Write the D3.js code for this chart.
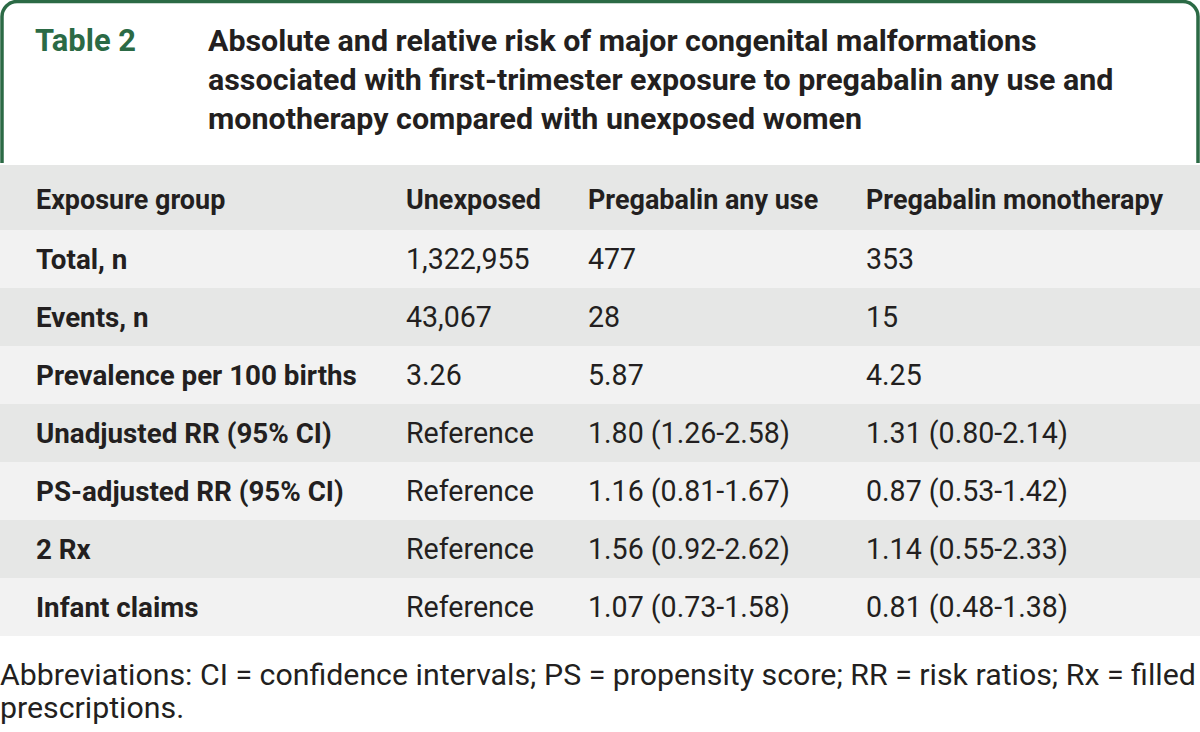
<!DOCTYPE html>
<html>
<head>
<meta charset="utf-8">
<script src="https://cdn.jsdelivr.net/npm/d3@7"></script>
<style>
  html, body { margin: 0; padding: 0; background: #ffffff; }
  svg { display: block; }
  text { font-family: Roboto, "Liberation Sans", sans-serif; }
</style>
</head>
<body>
<svg id="chart" width="1200" height="732"></svg>
<script>
// ---- data ----
const tableLabel = "Table 2";
const titleLines = [
  "Absolute and relative risk of major congenital malformations",
  "associated with first-trimester exposure to pregabalin any use and",
  "monotherapy compared with unexposed women"
];
const columns = ["Exposure group", "Unexposed", "Pregabalin any use", "Pregabalin monotherapy"];
const rowLabels = [
  "Total, n",
  "Events, n",
  "Prevalence per 100 births",
  "Unadjusted RR (95% CI)",
  "PS-adjusted RR (95% CI)",
  "2 Rx",
  "Infant claims"
];
const unexposed = ["1,322,955", "43,067", "3.26", "Reference", "Reference", "Reference", "Reference"];
const anyUse = ["477", "28", "5.87", "1.80 (1.26-2.58)", "1.16 (0.81-1.67)", "1.56 (0.92-2.62)", "1.07 (0.73-1.58)"];
const monotherapy = ["353", "15", "4.25", "1.31 (0.80-2.14)", "0.87 (0.53-1.42)", "1.14 (0.55-2.33)", "0.81 (0.48-1.38)"];
const footnoteLines = [
  "Abbreviations: CI = confidence intervals; PS = propensity score; RR = risk ratios; Rx = filled",
  "prescriptions."
];

// ---- layout ----
const W = 1200, H = 732;
const svg = d3.select("#chart");
const green = "#2b6a45";
const ink = "#231f20";
const darkRow = "#e6e7e6";
const lightRow = "#f2f2f2";

// font-size that makes a text element's width equal to target
function fitSize(sel, target) {
  const node = sel.node();
  const fs = parseFloat(sel.attr("font-size"));
  const w = node.getComputedTextLength();
  return fs * target / w;
}

// header box with rounded top corners
const bx0 = 2, bx1 = 1198, by0 = 1.5, by1 = 163, r = 15;
svg.append("path")
  .attr("d", `M${bx0},${by1} L${bx0},${by0 + r} A${r},${r} 0 0 1 ${bx0 + r},${by0} L${bx1 - r},${by0} A${r},${r} 0 0 1 ${bx1},${by0 + r} L${bx1},${by1}`)
  .attr("fill", "none")
  .attr("stroke", green)
  .attr("stroke-width", 3.5);

// title
const tLabel = svg.append("text")
  .attr("x", 35).attr("y", 51)
  .attr("font-size", 30).attr("font-weight", 700)
  .attr("fill", green)
  .text(tableLabel);
tLabel.attr("font-size", fitSize(tLabel, 101));

const titleY = d3.scalePoint().domain(d3.range(titleLines.length)).range([51, 129]);
const titleText = svg.selectAll("text.title").data(titleLines).join("text")
  .attr("class", "title")
  .attr("x", 208)
  .attr("y", (d, i) => titleY(i))
  .attr("font-size", 28).attr("font-weight", 700)
  .attr("fill", ink)
  .text(d => d);
titleText.attr("font-size", fitSize(d3.select(titleText.nodes()[0]), 829));

// table rows
const headerTop = 165, headerBottom = 230, tableBottom = 636;
const yRow = d3.scaleBand().domain(rowLabels).range([headerBottom, tableBottom]);
const xCol = d3.scaleOrdinal().domain(columns).range([36, 406, 588, 866]);

svg.append("rect")
  .attr("x", 0).attr("y", headerTop)
  .attr("width", W).attr("height", headerBottom - headerTop)
  .attr("fill", darkRow);

svg.selectAll("rect.row").data(rowLabels).join("rect")
  .attr("class", "row")
  .attr("x", 0).attr("y", d => yRow(d))
  .attr("width", W).attr("height", yRow.bandwidth())
  .attr("fill", (d, i) => i % 2 === 0 ? lightRow : darkRow);

// header texts
const headerY = (headerTop + headerBottom) / 2 + 2;
const hdr = svg.selectAll("text.hdr").data(columns).join("text")
  .attr("class", "hdr")
  .attr("x", d => xCol(d))
  .attr("y", headerY)
  .attr("dy", "0.36em")
  .attr("font-size", 24).attr("font-weight", 700)
  .attr("fill", ink)
  .text(d => d);
hdr.attr("font-size", fitSize(d3.select(hdr.nodes()[3]), 297));

// row labels
const lab = svg.selectAll("text.lab").data(rowLabels).join("text")
  .attr("class", "lab")
  .attr("x", xCol(columns[0]))
  .attr("y", d => yRow(d) + yRow.bandwidth() / 2)
  .attr("dy", "0.36em")
  .attr("font-size", 24).attr("font-weight", 700)
  .attr("fill", ink)
  .text(d => d);
lab.attr("font-size", fitSize(d3.select(lab.nodes()[2]), 321));

// values
const valueCols = [
  { col: columns[1], vals: unexposed },
  { col: columns[2], vals: anyUse },
  { col: columns[3], vals: monotherapy }
];
const cells = [];
valueCols.forEach(c => c.vals.forEach((v, i) => cells.push({ col: c.col, row: rowLabels[i], v })));
const val = svg.selectAll("text.val").data(cells).join("text")
  .attr("class", "val")
  .attr("x", d => xCol(d.col))
  .attr("y", d => yRow(d.row) + yRow.bandwidth() / 2)
  .attr("dy", "0.36em")
  .attr("font-size", 24).attr("font-weight", 400)
  .attr("fill", ink)
  .text(d => d.v);
const fsA = fitSize(val.filter(d => d.v === "1,322,955"), 130);
const fsB = fitSize(val.filter(d => d.v === "1.80 (1.26-2.58)"), 203);
const fsC = fitSize(val.filter((d, i) => d.v === "Reference" && d.row === rowLabels[3]), 121);
val.attr("font-size", (fsA + fsB + fsC) / 3);

// footnote
const fnY = d3.scalePoint().domain(d3.range(footnoteLines.length)).range([685, 718]);
const fn = svg.selectAll("text.fn").data(footnoteLines).join("text")
  .attr("class", "fn")
  .attr("x", 0)
  .attr("y", (d, i) => fnY(i))
  .attr("font-size", 26).attr("font-weight", 400)
  .attr("fill", ink)
  .text(d => d);
fn.attr("font-size", fitSize(d3.select(fn.nodes()[0]), 1196));
</script>
</body>
</html>
